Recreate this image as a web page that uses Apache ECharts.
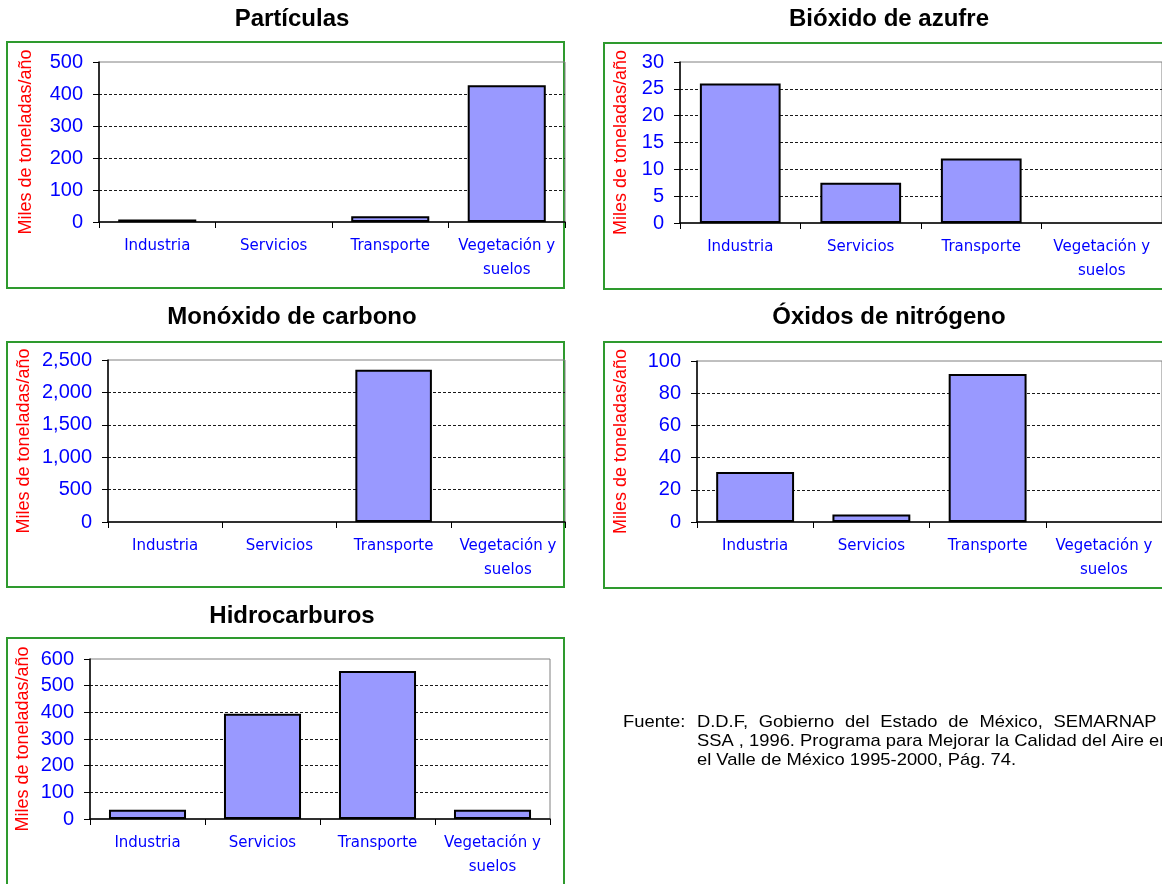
<!DOCTYPE html>
<html>
<head>
<meta charset="utf-8">
<script src="https://cdn.jsdelivr.net/npm/echarts@6/dist/echarts.min.js"></script>
<style>
  html, body { margin: 0; padding: 0; background: #ffffff; }
  #chart { width: 1162px; height: 884px; }
</style>
</head>
<body>
<div id="chart"></div>
<script>
// Emisiones anuales por sector (miles de toneladas/año)
const categories = ['Industria', 'Servicios', 'Transporte', 'Vegetación y suelos'];
const titles = ['Partículas', 'Bióxido de azufre', 'Monóxido de carbono', 'Óxidos de nitrógeno', 'Hidrocarburos'];
const particulas = [8, 0, 18, 427];
const bioxidoAzufre = [26, 7.5, 12, 0];
const monoxidoCarbono = [0, 0, 2350, 0];
const oxidosNitrogeno = [31, 4.7, 92, 0];
const hidrocarburos = [35, 395, 555, 35];
const yMax = [500, 30, 2500, 100, 600];
const yStep = [100, 5, 500, 20, 100];
const yName = 'Miles de toneladas/año';
const fuenteLabel = 'Fuente:';
const fuenteLines = [
  'D.D.F, Gobierno del Estado de México, SEMARNAP y',
  'SSA , 1996. Programa para Mejorar la Calidad del Aire en',
  'el Valle de México 1995-2000, Pág. 74.'
];
const seriesData = [particulas, bioxidoAzufre, monoxidoCarbono, oxidosNitrogeno, hidrocarburos];

// Panel geometry: plot rectangle, frame, title centre and axis-name gap
const panels = [
  { grid: { left: 99,  top: 62,  width: 466, height: 160 }, frame: [7, 42, 557, 246],   title: [292, 19],  nameGap: 73 },
  { grid: { left: 680, top: 62,  width: 486, height: 161 }, frame: [604, 43, 570, 246], title: [889, 19],  nameGap: 59 },
  { grid: { left: 108, top: 360, width: 457, height: 162 }, frame: [7, 342, 557, 245],  title: [292, 317], nameGap: 84 },
  { grid: { left: 697, top: 361, width: 470, height: 161 }, frame: [604, 342, 570, 246], title: [889, 317], nameGap: 76 },
  { grid: { left: 90,  top: 659, width: 460, height: 160 }, frame: [7, 638, 557, 260],  title: [292, 616], nameGap: 67 }
];

const BLUE = '#0000ff';
const FRAME_GREEN = '#2e9a2e';
const SANS = '"Liberation Sans", Arial, sans-serif';

const grids = [], xAxes = [], yAxes = [], series = [], graphics = [];

panels.forEach((p, i) => {
  grids.push(Object.assign({
    show: true, borderColor: '#808080', borderWidth: 1, backgroundColor: 'transparent'
  }, p.grid));

  xAxes.push({
    type: 'category', gridIndex: i, data: categories, boundaryGap: true,
    axisLine: { show: true, lineStyle: { color: '#000', width: 1.5 } },
    axisTick: { show: true, length: 6, interval: 0, lineStyle: { color: '#000', width: 1 } },
    axisLabel: {
      interval: 0, margin: 12, color: BLUE, fontFamily: '"DejaVu Sans", sans-serif',
      fontSize: 15, lineHeight: 24, align: 'center',
      formatter: v => v.replace(' y ', ' y\n')
    },
    splitLine: { show: false }
  });

  yAxes.push({
    type: 'value', gridIndex: i, min: 0, max: yMax[i], interval: yStep[i],
    name: yName, nameLocation: 'middle', nameRotate: 90, nameGap: p.nameGap,
    nameTextStyle: { color: '#ff0000', fontFamily: SANS, fontSize: 18, verticalAlign: 'middle' },
    axisLine: { show: true, lineStyle: { color: '#000', width: 1.5 } },
    axisTick: { show: true, length: 6, inside: false, lineStyle: { color: '#000', width: 1 } },
    axisLabel: {
      margin: 16, color: BLUE, fontFamily: SANS, fontSize: 20,
      formatter: v => v.toLocaleString('en-US')
    },
    splitLine: {
      show: true, showMinLine: false, showMaxLine: false,
      lineStyle: { color: '#1a1a1a', width: 1, type: [3, 2] }
    }
  });

  series.push({
    type: 'bar', xAxisIndex: i, yAxisIndex: i, barCategoryGap: '33%',
    itemStyle: { color: '#9999ff', borderColor: '#000', borderWidth: 2 },
    data: seriesData[i].map(v => v === 0 ? { value: v, itemStyle: { borderWidth: 0 } } : v),
    silent: true
  });

  const f = p.frame;
  graphics.push({
    type: 'rect', z: -1,
    shape: { x: f[0], y: f[1], width: f[2], height: f[3] },
    style: { fill: 'transparent', stroke: FRAME_GREEN, lineWidth: 2 }
  });
  graphics.push({
    type: 'text', x: p.title[0], y: p.title[1],
    style: {
      text: titles[i], font: 'bold 24px ' + SANS, fill: '#000',
      textAlign: 'center', textVerticalAlign: 'middle'
    }
  });
});

// Source note: first line justified, text slightly widened
const NOTE_FONT = '17px "Liberation Sans"';
const noteScale = 1.08;
const noteIndent = 68.5;
const noteLineWidth = 444;
const lineY = [722, 741, 760];
const measureCtx = document.createElement('canvas').getContext('2d');
measureCtx.font = NOTE_FONT;
const noteChildren = [{
  type: 'text', x: 0, y: lineY[0],
  style: { text: fuenteLabel, font: NOTE_FONT, fill: '#000', textVerticalAlign: 'middle' }
}];
const words = fuenteLines[0].split(' ');
const wordWidths = words.map(w => measureCtx.measureText(w).width);
const gap = (noteLineWidth - wordWidths.reduce((a, b) => a + b, 0)) / (words.length - 1);
let cursor = noteIndent;
words.forEach((w, k) => {
  noteChildren.push({
    type: 'text', x: cursor, y: lineY[0],
    style: { text: w, font: NOTE_FONT, fill: '#000', textVerticalAlign: 'middle' }
  });
  cursor += wordWidths[k] + gap;
});
fuenteLines.slice(1).forEach((line, k) => {
  noteChildren.push({
    type: 'text', x: noteIndent, y: lineY[k + 1],
    style: { text: line, font: NOTE_FONT, fill: '#000', textVerticalAlign: 'middle' }
  });
});
graphics.push({ type: 'group', x: 623, y: 0, scaleX: noteScale, children: noteChildren });

const chart = echarts.init(document.getElementById('chart'), null, { renderer: 'canvas' });
chart.setOption({
  animation: false,
  backgroundColor: '#ffffff',
  grid: grids,
  xAxis: xAxes,
  yAxis: yAxes,
  series: series,
  graphic: { elements: graphics }
});
</script>
</body>
</html>
